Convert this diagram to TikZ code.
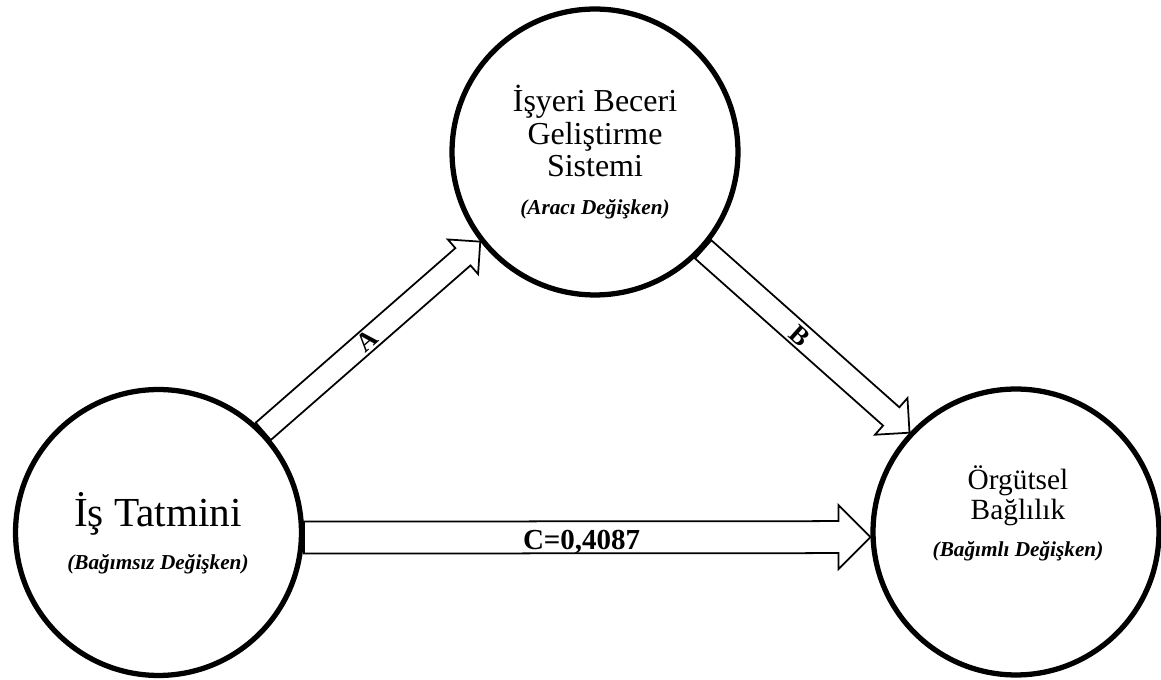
\documentclass[tikz,border=0pt]{standalone}
\usepackage{fontspec}
\setmainfont{Liberation Serif}
\usetikzlibrary{calc}

\newcommand{\blockarrow}[4]{%
 \coordinate (ba) at ($(#2)!#4!(#1)$);
 \draw[shaft] ($(#1)!#3!90:(#2)$) -- ($(ba)!#3!90:(#2)$) -- ($(ba)!#4!90:(#2)$) -- (#2)
   -- ($(ba)!#4!-90:(#2)$) -- ($(ba)!#3!-90:(#2)$) -- ($(#1)!#3!-90:(#2)$) -- cycle;
}

\begin{document}
\begin{tikzpicture}[x=0.02cm, y=0.02cm,
 bubble/.style={circle, draw, line width=3pt, minimum size=5.72cm, inner sep=0pt},
 shaft/.style={draw, line width=1pt, line join=miter},
 ttl/.style={anchor=base, inner sep=0pt},
 sub/.style={anchor=base, inner sep=0pt, font=\fontsize{12.1}{14}\selectfont\bfseries\itshape},
 lbl/.style={inner sep=0pt, font=\fontsize{15}{17}\selectfont\bfseries}]
\useasboundingbox (0,0) rectangle (1161,680);

\node[bubble] (L) at (158.5,147.5) {};
\node[bubble] (T) at (595,528) {};
\node[bubble] (R) at (1016,148) {};

\node[ttl, font=\fontsize{23.5}{26}\selectfont] (L-1) at (158,153) {İş Tatmini};
\node[sub] (L-sub) at (158,110) {(Bağımsız Değişken)};

\foreach \txt [count=\i] in {İşyeri Beceri, Geliştirme, Sistemi}
 \node[ttl, font=\fontsize{18.2}{19}\selectfont] (T-\i) at (595,600.5-32.5*\i) {\txt};
\node[sub] (T-sub) at (595,465) {(Aracı Değişken)};

\foreach \txt [count=\i] in {Örgütsel, Bağlılık}
 \node[ttl, font=\fontsize{16.7}{18}\selectfont] (R-\i) at (1018,220-30*\i) {\txt};
\node[sub] (R-sub) at (1018,123) {(Bağımlı Değişken)};

\blockarrow{L.44}{T.218}{0.23cm}{0.46cm}
\blockarrow{T.318}{R.137}{0.245cm}{0.49cm}
\blockarrow{L.-2}{R.182}{0.32cm}{0.64cm}

\path (L.44) -- node[lbl, pos=.48, sloped] (lab-A) {A} (T.218);
\path (T.318) -- node[lbl, pos=.47, sloped] (lab-B) {B} (R.137);
\path (L.-2) -- node[lbl, pos=.49, yshift=-2.5pt, font=\fontsize{16.5}{19}\selectfont\bfseries] (lab-C) {C=0,4087} (R.182);
\end{tikzpicture}
\end{document}
